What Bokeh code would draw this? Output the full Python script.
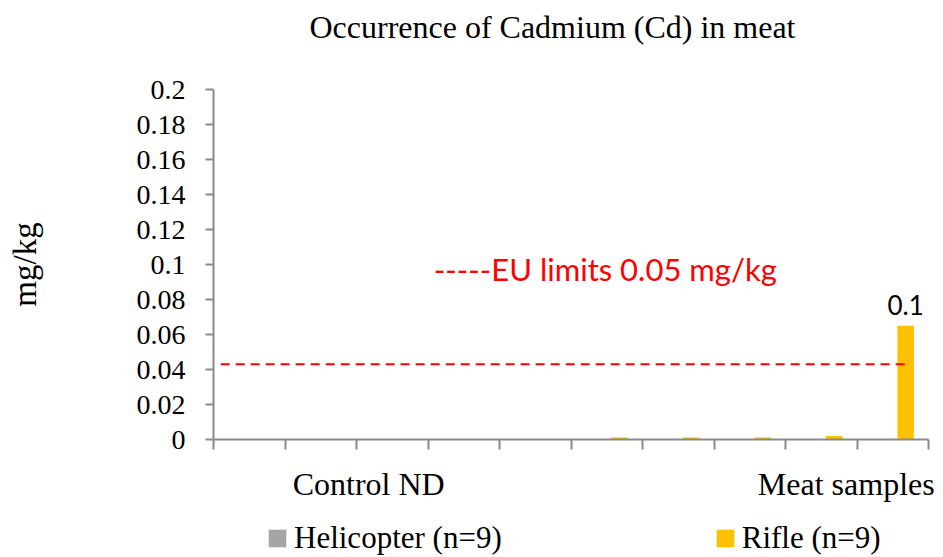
from bokeh.plotting import figure
from bokeh.models import (FixedTicker, NumeralTickFormatter, Label, Legend, LegendItem,
                          ColumnDataSource)
from bokeh.transform import dodge
from bokeh.embed import file_html
from bokeh.resources import INLINE
from bokeh.core.properties import value

# ---------------- data ----------------
title_text = "Occurrence of Cadmium (Cd) in meat"
y_label = "mg/kg"
slots = [0.5, 1.5, 2.5, 3.5, 4.5, 5.5, 6.5, 7.5, 8.5, 9.5]          # sample positions
helicopter = [0, 0, 0, 0, 0, 0, 0, 0, 0, 0]
rifle = [0, 0, 0, 0, 0, 0.0012, 0.0012, 0.0012, 0.002, 0.065]
series_names = ["Helicopter (n=9)", "Rifle (n=9)"]
group_labels = ["Control ND", "Meat samples"]
group_label_pos = [2.17, 8.85]
boundary_ticks = [0, 1, 2, 3, 4, 5, 6, 7, 8, 9, 10]
y_ticks = [0, 0.02, 0.04, 0.06, 0.08, 0.1, 0.12, 0.14, 0.16, 0.18, 0.2]
eu_limit_x = [0.1, 9.73]
eu_limit_y = [0.043, 0.043]
eu_text = "-----EU limits 0.05 mg/kg"
max_label = f"{rifle[-1]:.1f}"

SERIF = "Liberation Serif"
SANS = "Lato"
GRAY = "#A5A5A5"
GOLD = "#FFC000"
AXIS = "#898989"

W, H = 940, 556
FL, FB = 213, 439          # pixel position of data origin
SLOT_PX = 71.5
Y_PX = 1750.0

src = ColumnDataSource(dict(x=slots, heli=helicopter, rifle=rifle))

p = figure(width=W, height=H, output_backend="svg", toolbar_location=None,
           x_range=(-FL / SLOT_PX, (W - FL) / SLOT_PX),
           y_range=((FB - H) / Y_PX, FB / Y_PX),
           min_border=0)
p.outline_line_color = None
p.xgrid.visible = False
p.ygrid.visible = False
p.background_fill_color = "white"
p.border_fill_color = "white"

bw = 0.23
off = 0.18
r_heli = p.vbar(x=dodge("x", -off, range=p.x_range), top="heli", width=bw, source=src,
                fill_color=GRAY, line_color=None)
r_rifle = p.vbar(x=dodge("x", off, range=p.x_range), top="rifle", width=bw, source=src,
                 fill_color=GOLD, line_color=None)

# EU limit dashed line
p.line(eu_limit_x, eu_limit_y, line_color="#FF0000", line_width=2, line_dash="9 6")

# value label above last bar
p.text(x=[slots[-1] + off], y=[rifle[-1]], text=[max_label], text_align="center",
       text_baseline="alphabetic", y_offset=-21, text_font=value(SANS), text_font_size="26px",
       text_color="black")

# title
p.add_layout(Label(x=4.741, y=0.2360, text=title_text, text_align="center",
                   text_baseline="alphabetic", text_font=SERIF, text_font_size="32px",
                   text_color="black"))

# EU limit legend text
p.add_layout(Label(x=3.08, y=0.0975, text=eu_text, text_align="left",
                   text_baseline="middle", text_font=SANS, text_font_size="31px",
                   text_color="#FF0000"))

# y axis
yax = p.yaxis[0]
yax.fixed_location = 0
yax.bounds = (0, 0.2)
yax.ticker = FixedTicker(ticks=y_ticks)
yax.formatter = NumeralTickFormatter(format="0.[00]")
yax.axis_line_color = AXIS
yax.axis_line_width = 2
yax.major_tick_line_color = AXIS
yax.major_tick_line_width = 2
yax.major_tick_out = 8
yax.major_tick_in = 0
yax.minor_tick_line_color = None
yax.major_label_text_font = SERIF
yax.major_label_text_font_size = "28px"
yax.major_label_text_color = "black"
yax.major_label_standoff = 20
yax.axis_label = y_label
yax.axis_label_text_font = SERIF
yax.axis_label_text_font_size = "33px"
yax.axis_label_text_font_style = "normal"
yax.axis_label_text_color = "black"
yax.axis_label_standoff = 91

# x axis: boundary ticks as minor ticks, group labels as majors
xax = p.xaxis[0]
xax.fixed_location = 0
xax.bounds = (0, 10)
xax.ticker = FixedTicker(ticks=group_label_pos, minor_ticks=boundary_ticks)
xax.major_label_overrides = {group_label_pos[0]: group_labels[0],
                             group_label_pos[1]: group_labels[1]}
xax.axis_line_color = AXIS
xax.axis_line_width = 2
xax.major_tick_line_color = None
xax.minor_tick_line_color = AXIS
xax.minor_tick_line_width = 2
xax.minor_tick_out = 10
xax.minor_tick_in = 0
xax.major_label_text_font = SERIF
xax.major_label_text_font_size = "32px"
xax.major_label_text_color = "black"
xax.major_label_standoff = 16

legend = Legend(items=[LegendItem(label=series_names[0], renderers=[r_heli]),
                       LegendItem(label=series_names[1], renderers=[r_rifle])],
                orientation="horizontal", location=(266, 0), spacing=212,
                glyph_width=22, glyph_height=22, label_standoff=6,
                label_text_font=SERIF, label_text_font_size="31px",
                label_text_color="black",
                background_fill_alpha=0, border_line_color=None, padding=0, margin=0)
p.add_layout(legend, "center")

open("out.html", "w").write(file_html(p, INLINE))
